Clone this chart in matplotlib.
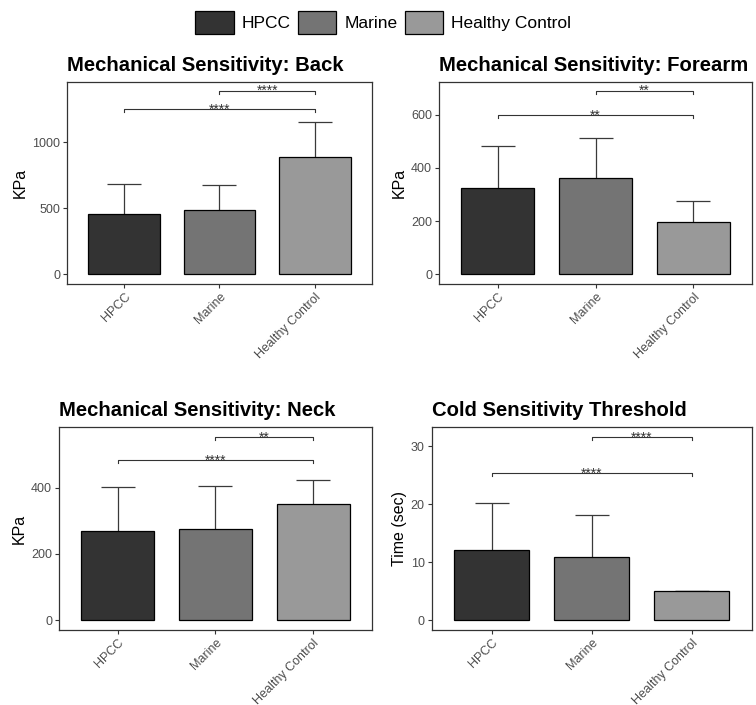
import matplotlib
matplotlib.use("Agg")
import matplotlib.pyplot as plt
from matplotlib.patches import Patch

plt.rcParams['font.family'] = ['Liberation Sans', 'DejaVu Sans']

groups = ["HPCC", "Marine", "Healthy Control"]
colors = ["#333333", "#747474", "#999999"]

# means / upper SD
back_mean = [457, 487, 886]
back_sd = [227, 190, 265]
forearm_mean = [325, 361, 197]
forearm_sd = [157, 153, 80]
neck_mean = [269, 276, 350]
neck_sd = [134, 130, 73]
cold_mean = [12.15, 10.9, 5.06]
cold_sd = [8.15, 7.3, 0]

# significance brackets: (group a, group b, y, label)
back_sig = [(1, 3, 1250, "****"), (2, 3, 1390, "****")]
forearm_sig = [(1, 3, 598, "**"), (2, 3, 690, "**")]
neck_sig = [(1, 3, 483, "****"), (2, 3, 553, "**")]
cold_sig = [(1, 3, 25.4, "****"), (2, 3, 31.6, "****")]

panels = [
    ("Mechanical Sensitivity: Back", "KPa", back_mean, back_sd, back_sig,
     (-75, 1456), [0, 500, 1000], [0.0886, 0.5972, 0.4034, 0.2865]),
    ("Mechanical Sensitivity: Forearm", "KPa", forearm_mean, forearm_sd, forearm_sig,
     (-36, 723), [0, 200, 400, 600], [0.5807, 0.5972, 0.4140, 0.2865]),
    ("Mechanical Sensitivity: Neck", "KPa", neck_mean, neck_sd, neck_sig,
     (-30, 583), [0, 200, 400], [0.0780, 0.1064, 0.4140, 0.2875]),
    ("Cold Sensitivity Threshold", "Time (sec)", cold_mean, cold_sd, cold_sig,
     (-1.67, 33.3), [0, 10, 20, 30], [0.5710, 0.1064, 0.4233, 0.2875]),
]

fig = plt.figure(figsize=(7.56, 7.05), dpi=100)

edge = "#333333"
tick_col = "#4d4d4d"

for title, ylabel, means, sds, sigs, ylim, yticks, rect in panels:
    ax = fig.add_axes(rect)
    x = [1, 2, 3]
    ax.errorbar(x, means, yerr=sds, fmt='none', ecolor="#3a3a3a",
                elinewidth=0.9, capsize=12, capthick=0.9, zorder=1)
    ax.bar(x, means, width=0.75, color=colors, edgecolor="black",
           linewidth=0.9, zorder=2)
    ax.set_xlim(0.4, 3.6)
    ax.set_ylim(*ylim)
    ax.set_yticks(yticks)
    ax.set_xticks(x)
    ax.set_xticklabels(groups, rotation=45, ha='right', va='top',
                       rotation_mode='anchor')
    tip = 0.015 * (ylim[1] - ylim[0])
    for a, b, y, lab in sigs:
        ax.plot([a, a, b, b], [y - tip, y, y, y - tip], color="#333333",
                linewidth=0.8, zorder=3)
        ax.annotate(lab, xy=((a + b) / 2, y), xytext=(0, -3.2),
                    textcoords='offset points', ha='center', va='baseline',
                    fontsize=10, color="#333333")
    for sp in ax.spines.values():
        sp.set_color(edge)
        sp.set_linewidth(0.9)
    ax.tick_params(axis='both', colors=edge, labelcolor=tick_col,
                   labelsize=9, length=3, width=0.8, pad=2)
    ax.set_ylabel(ylabel, fontsize=11.5, color="black", labelpad=3)
    ax.set_title(title, loc='left', fontsize=14.6, fontweight='bold', pad=8)

handles = [Patch(facecolor=c, edgecolor="black", linewidth=0.9) for c in colors]
fig.legend(handles, groups, loc='center', bbox_to_anchor=(0.507, 0.968),
           ncol=3, frameon=False, fontsize=12.5, handlelength=2.2,
           handleheight=1.65, handletextpad=0.45, columnspacing=0.45)

fig.savefig("out.png", dpi=100)
